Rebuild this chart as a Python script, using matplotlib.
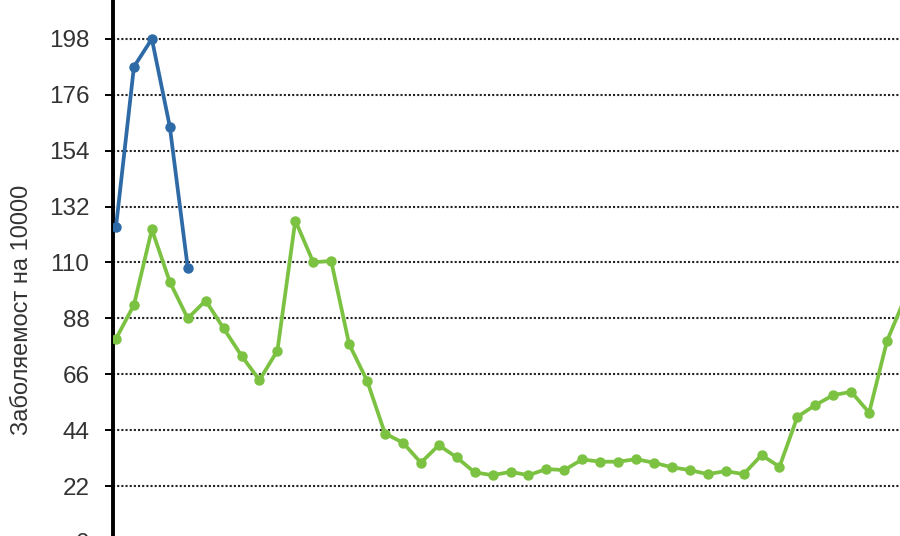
import numpy as np
import matplotlib.pyplot as plt

plt.rcParams['font.family'] = ['Liberation Sans', 'DejaVu Sans']

# данни (отчетени от графиката)
blue = [124, 187, 198, 163.5, 108]
green = [80, 93.3, 123, 102.4, 88, 95, 84.1, 73.3, 63.7, 75.3,
         126.5, 110.1, 110.6, 77.9, 63.5, 42.7, 39.1, 31.2, 38.1, 33.3,
         27.4, 26.3, 27.6, 26.3, 28.7, 28.3, 32.5, 31.6, 31.6, 32.6,
         31.2, 29.4, 28.3, 26.7, 27.9, 26.7, 34.2, 29.6, 49.3, 53.9,
         57.8, 59.1, 50.9, 79.2, 96]
yticks = [0, 22, 44, 66, 88, 110, 132, 154, 176, 198]
ylabel = 'Заболяемост на 10000'

fig = plt.figure(figsize=(9, 5.36), dpi=100)
# осите излизат извън рамката (картинката е изрязана)
ax = fig.add_axes([113 / 900, -6 / 536, 1 - 113 / 900, 559 / 536])

ax.plot(np.arange(len(green)), green, color='#7cc242', lw=2.7,
        marker='o', ms=6.5, zorder=3)
ax.plot(np.arange(len(blue)), blue, color='#2d6aa6', lw=2.7,
        marker='o', ms=6.5, zorder=4)

ax.set_xlim(-0.167, 43.72)
ax.set_ylim(0, 220)
ax.set_yticks(yticks)
ax.set_xticks([])
ax.yaxis.grid(True, ls=(0, (1, 1)), color='#222222', lw=1.5)
ax.set_axisbelow(True)

for s in ['top', 'right', 'bottom']:
    ax.spines[s].set_visible(False)
ax.spines['left'].set_linewidth(2.8)
ax.tick_params(axis='y', length=6, width=1.4, pad=11, labelsize=17.5,
               labelcolor='#333333')

fig.text(22 / 900, 1 - 310 / 536, ylabel, rotation=90, fontsize=17,
         ha='center', va='center', color='#333333')

fig.savefig('out.png', dpi=100)
